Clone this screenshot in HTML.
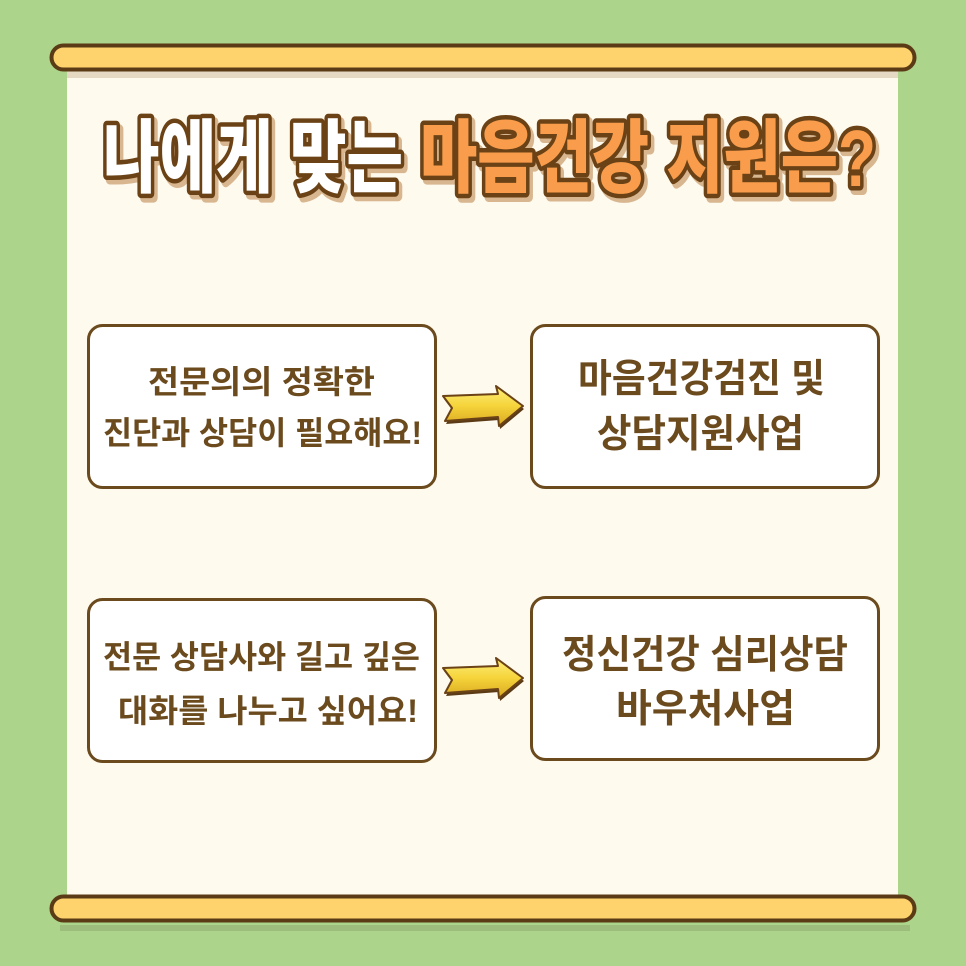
<!DOCTYPE html>
<html><head><meta charset="utf-8"><style>
html,body{margin:0;padding:0;background:#acd48a;}
svg{display:block}
text{font-family:"Liberation Sans","Noto Sans CJK KR",sans-serif;}
</style></head><body>
<svg width="966" height="966" viewBox="0 0 966 966" xmlns="http://www.w3.org/2000/svg">
<rect width="966" height="966" fill="#acd48a"/>
<rect x="67" y="60" width="831" height="845" fill="#fffaee"/>
<rect x="67" y="70" width="831" height="8" fill="#e6d9c3"/>
<rect x="51.5" y="45.5" width="863" height="24" rx="12" fill="#fed36d" stroke="#5b3b16" stroke-width="4"/>
<rect x="60" y="925" width="850" height="6" fill="#9cbd7c"/>
<rect x="51.5" y="896.5" width="863" height="24" rx="12" fill="#fed36d" stroke="#5b3b16" stroke-width="4"/>
<g font-weight="900" font-size="80" stroke-linejoin="round">
<text x="106" y="190" textLength="300" lengthAdjust="spacingAndGlyphs" fill="#d8b690" stroke="#d8b690" stroke-width="10">나에게 맞는</text>
<text x="103" y="186" textLength="300" lengthAdjust="spacingAndGlyphs" fill="#fff" stroke="#6b4216" stroke-width="9" paint-order="stroke">나에게 맞는</text>
<text x="423" y="190" textLength="456" lengthAdjust="spacingAndGlyphs" fill="#d8b690" stroke="#d8b690" stroke-width="10">마음건강 지원은?</text>
<text x="420" y="186" textLength="456" lengthAdjust="spacingAndGlyphs" fill="#f99d4c" stroke="#6b4216" stroke-width="9" paint-order="stroke">마음건강 지원은?</text>
</g>
<g fill="#fff" stroke="#6b4a1e" stroke-width="3">
<rect x="88.5" y="325.5" width="347" height="162" rx="14"/>
<rect x="531.5" y="325.5" width="347" height="162" rx="14"/>
<rect x="88.5" y="599.5" width="347" height="162" rx="14"/>
<rect x="531.5" y="597.5" width="347" height="162" rx="14"/>
</g>
<g fill="#6b4a1e">
<g font-size="32" font-weight="700">
<text x="148" y="393" textLength="227" lengthAdjust="spacingAndGlyphs">전문의의 정확한</text>
<text x="103" y="444" textLength="319" lengthAdjust="spacingAndGlyphs">진단과 상담이 필요해요!</text>
<text x="103" y="668" textLength="317" lengthAdjust="spacingAndGlyphs">전문 상담사와 길고 깊은</text>
<text x="118" y="722" textLength="300" lengthAdjust="spacingAndGlyphs">대화를 나누고 싶어요!</text>
</g>
<g font-size="39" font-weight="700">
<text x="578" y="392" textLength="247" lengthAdjust="spacingAndGlyphs">마음건강검진 및</text>
<text x="597" y="447" textLength="207" lengthAdjust="spacingAndGlyphs">상담지원사업</text>
<text x="562" y="668" textLength="286" lengthAdjust="spacingAndGlyphs">정신건강 심리상담</text>
<text x="616" y="722" textLength="179" lengthAdjust="spacingAndGlyphs">바우처사업</text>
</g>
</g>
<defs>
<linearGradient id="ag" x1="0" y1="0" x2="0" y2="1">
<stop offset="0" stop-color="#fff07a"/><stop offset="0.5" stop-color="#f5d33a"/><stop offset="1" stop-color="#d9a820"/>
</linearGradient>
<path id="arr" d="M0,8 L55,6 L53,-2 L80,18 L56,38 L55,29 L2,33 L9,20 Z"/>
</defs>
<g transform="translate(443,388)">
<use href="#arr" transform="translate(1,3)" fill="#5b3b16"/>
<use href="#arr" fill="url(#ag)" stroke="#6b4216" stroke-width="2" stroke-linejoin="round"/>
</g>
<g transform="translate(443,660)">
<use href="#arr" transform="translate(1,3)" fill="#5b3b16"/>
<use href="#arr" fill="url(#ag)" stroke="#6b4216" stroke-width="2" stroke-linejoin="round"/>
</g>
</svg>
</body></html>
